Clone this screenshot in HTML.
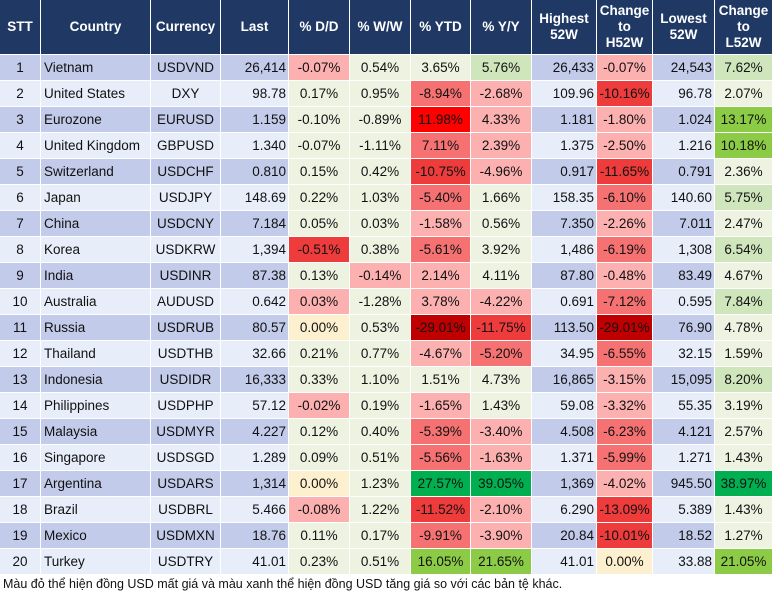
<!DOCTYPE html>
<html><head><meta charset="utf-8">
<style>
body{margin:0;width:777px;height:602px;background:#fff;position:relative;overflow:hidden;font-family:"Liberation Sans",Arial,sans-serif;}
.c{position:absolute;box-sizing:border-box;font-size:13.5px;color:#111;display:flex;align-items:center;white-space:nowrap;}
.h{background:#1f3864;color:#fff;font-weight:bold;justify-content:center;text-align:center;line-height:16px;font-size:13.5px;}
.ctr{justify-content:center}.lft{justify-content:flex-start;padding-left:3px}.rgt{justify-content:flex-end;padding-right:2px}
#note{position:absolute;left:3px;top:577px;font-size:12.5px;color:#111;}
</style></head><body>
<div id="note">Màu đỏ thể hiện đồng USD mất giá và màu xanh thể hiện đồng USD tăng giá so với các bản tệ khác.</div>
<script>
const headers=["STT","Country","Currency","Last","% D/D","% W/W","% YTD","% Y/Y","Highest<br>52W","Change<br>to<br>H52W","Lowest<br>52W","Change<br>to<br>L52W"];
const colX=[0,41,151,221,289,350,411,471,532,597,653,715,773];
const rows=[
["1","Vietnam","USDVND","26,414","-0.07%","0.54%","3.65%","5.76%","26,433","-0.07%","24,543","7.62%"],
["2","United States","DXY","98.78","0.17%","0.95%","-8.94%","-2.68%","109.96","-10.16%","96.78","2.07%"],
["3","Eurozone","EURUSD","1.159","-0.10%","-0.89%","11.98%","4.33%","1.181","-1.80%","1.024","13.17%"],
["4","United Kingdom","GBPUSD","1.340","-0.07%","-1.11%","7.11%","2.39%","1.375","-2.50%","1.216","10.18%"],
["5","Switzerland","USDCHF","0.810","0.15%","0.42%","-10.75%","-4.96%","0.917","-11.65%","0.791","2.36%"],
["6","Japan","USDJPY","148.69","0.22%","1.03%","-5.40%","1.66%","158.35","-6.10%","140.60","5.75%"],
["7","China","USDCNY","7.184","0.05%","0.03%","-1.58%","0.56%","7.350","-2.26%","7.011","2.47%"],
["8","Korea","USDKRW","1,394","-0.51%","0.38%","-5.61%","3.92%","1,486","-6.19%","1,308","6.54%"],
["9","India","USDINR","87.38","0.13%","-0.14%","2.14%","4.11%","87.80","-0.48%","83.49","4.67%"],
["10","Australia","AUDUSD","0.642","0.03%","-1.28%","3.78%","-4.22%","0.691","-7.12%","0.595","7.84%"],
["11","Russia","USDRUB","80.57","0.00%","0.53%","-29.01%","-11.75%","113.50","-29.01%","76.90","4.78%"],
["12","Thailand","USDTHB","32.66","0.21%","0.77%","-4.67%","-5.20%","34.95","-6.55%","32.15","1.59%"],
["13","Indonesia","USDIDR","16,333","0.33%","1.10%","1.51%","4.73%","16,865","-3.15%","15,095","8.20%"],
["14","Philippines","USDPHP","57.12","-0.02%","0.19%","-1.65%","1.43%","59.08","-3.32%","55.35","3.19%"],
["15","Malaysia","USDMYR","4.227","0.12%","0.40%","-5.39%","-3.40%","4.508","-6.23%","4.121","2.57%"],
["16","Singapore","USDSGD","1.289","0.09%","0.51%","-5.56%","-1.63%","1.371","-5.99%","1.271","1.43%"],
["17","Argentina","USDARS","1,314","0.00%","1.23%","27.57%","39.05%","1,369","-4.02%","945.50","38.97%"],
["18","Brazil","USDBRL","5.466","-0.08%","1.22%","-11.52%","-2.10%","6.290","-13.09%","5.389","1.43%"],
["19","Mexico","USDMXN","18.76","0.11%","0.17%","-9.91%","-3.90%","20.84","-10.01%","18.52","1.27%"],
["20","Turkey","USDTRY","41.01","0.23%","0.51%","16.05%","21.65%","41.01","0.00%","33.88","21.05%"]];
const heat=[
"r1 n n g1 r1 g1","n n r2 r1 r3 n","n n r4 r1 r1 g2","n n r2 r1 r1 g2","n n r3 r1 r3 n",
"n n r2 n r2 g1","n n r1 n r1 n","r3 n r2 n r2 g1","n r1 r1 n r1 n","r1 n r1 r1 r2 g1",
"z n r5 r3 r5 n","n n r1 r2 r2 n","n n n n r1 g1","r1 n r1 n r1 n","n n r2 r1 r2 n",
"n n r2 r1 r2 n","z n g3 g3 r1 g3","r1 n r3 r1 r3 n","n n r2 r1 r3 n","n n g2 g2 z g2"];
const pal={n:"#edf2e1",z:"#fdf0cf",r1:"#fdb0b0",r2:"#f67272",r3:"#ee3b3b",r4:"#ff0000",r5:"#c00000",g1:"#cfe6bd",g2:"#8ccb45",g3:"#00b050"};
const heatCols=[4,5,6,7,9,11];
const align=["ctr","lft","ctr","rgt","ctr","ctr","ctr","ctr","rgt","ctr","rgt","ctr"];
const names=["stt","country","currency","last","pct-dd","pct-ww","pct-ytd","pct-yy","highest-52w","change-h52w","lowest-52w","change-l52w"];
function cell(x0,x1,y,h,html,cls,bg){
  const d=document.createElement('div');
  d.className='c '+cls;
  d.style.left=x0+'px';d.style.width=(x1-x0-1)+'px';d.style.top=y+'px';d.style.height=h+'px';
  if(bg)d.style.background=bg;
  d.innerHTML=html;document.body.appendChild(d);return d;
}
headers.forEach((t,i)=>{
  const d=cell(colX[i],colX[i+1],0,54,t,'h');
  
  
});
rows.forEach((r,ri)=>{
  const y=55+ri*26;const odd=ri%2===0;
  const base=odd?"#c3cbea":"#e7eefa";
  const hc=heat[ri].split(' ');
  r.forEach((v,ci)=>{
    let bg=base;const hi=heatCols.indexOf(ci);
    if(hi>=0)bg=pal[hc[hi]];
    const d=cell(colX[ci],colX[ci+1],y,25,v,align[ci],bg);
    
    
  });
});
</script>
</body></html>
